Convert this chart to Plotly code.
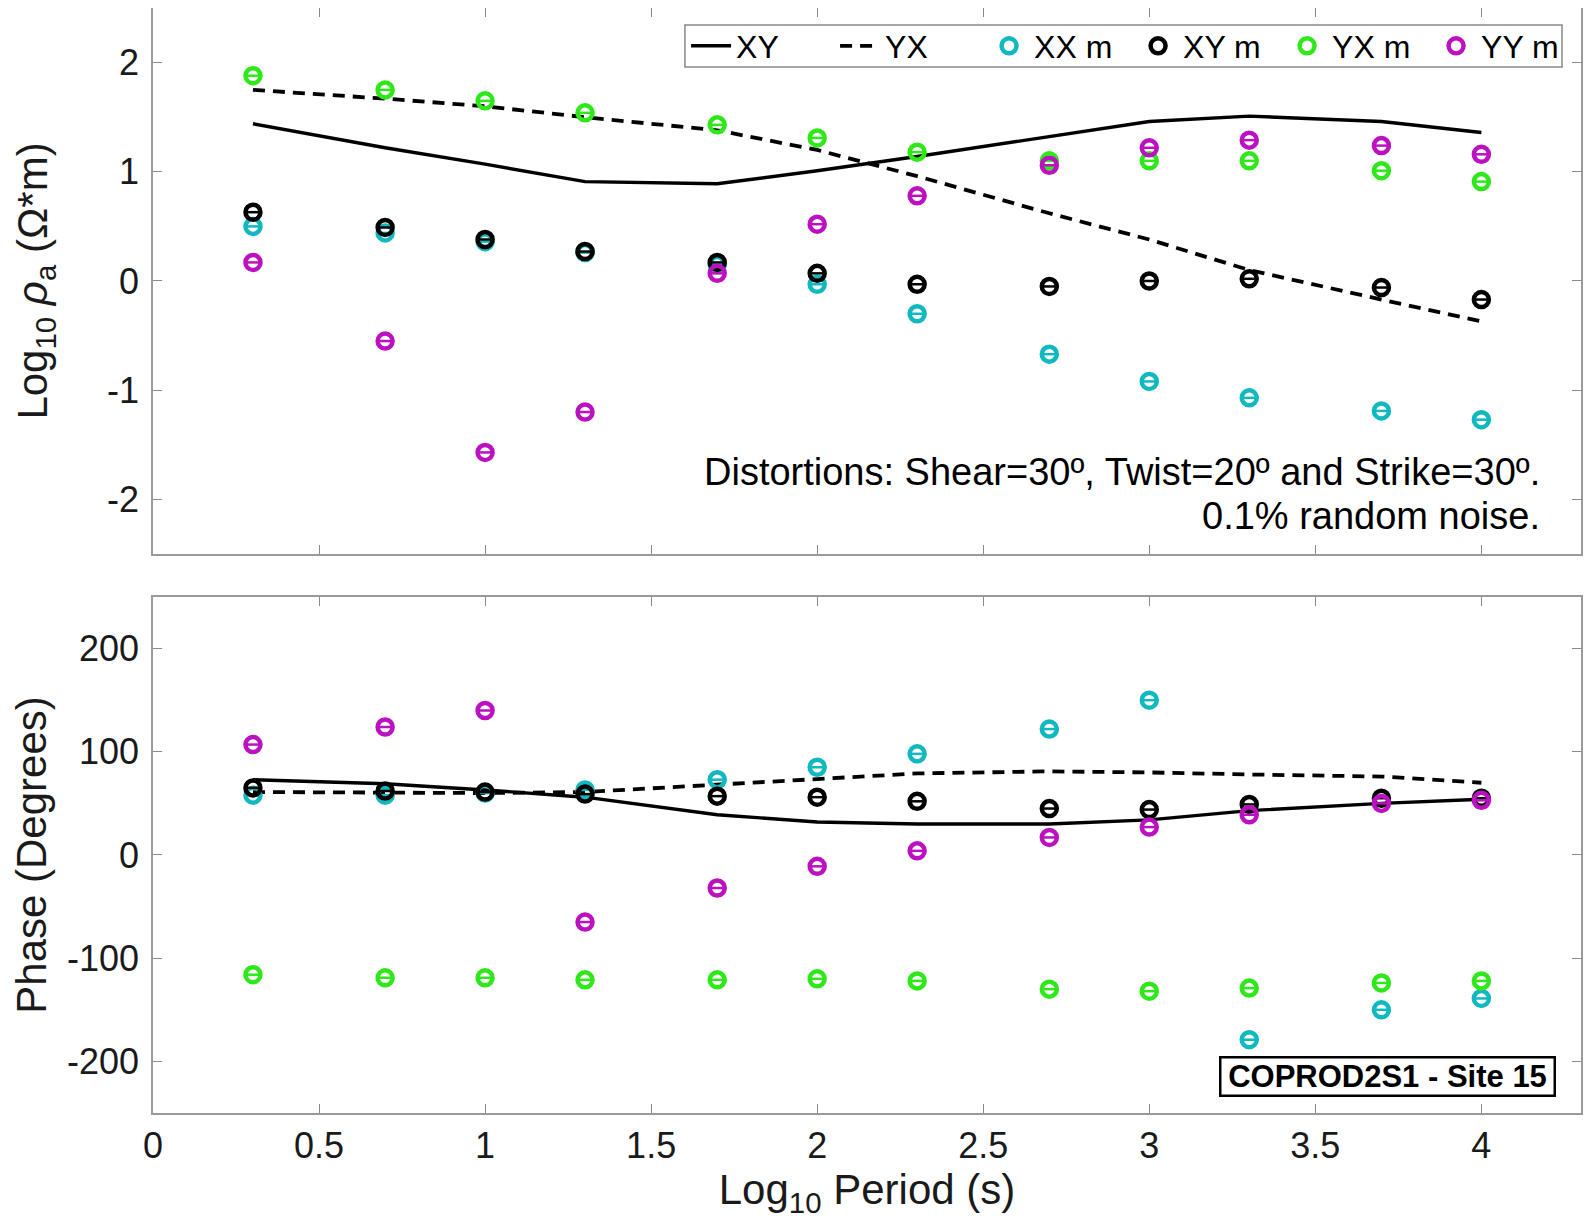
import plotly.graph_objects as go

# ---------------- data ----------------
log_period = [0.301, 0.699, 1.0, 1.301, 1.699, 2.0, 2.301, 2.699, 3.0, 3.301, 3.699, 4.0]

# apparent resistivity (log10 ohm*m)
rho_xy_model = [1.44, 1.22, 1.07, 0.91, 0.89, 1.01, 1.14, 1.32, 1.46, 1.51, 1.46, 1.36]
rho_yx_model = [1.75, 1.67, 1.60, 1.50, 1.38, 1.20, 0.96, 0.62, 0.38, 0.10, -0.17, -0.37]
rho_xx_m = [0.50, 0.44, 0.36, 0.26, 0.15, -0.03, -0.30, -0.67, -0.92, -1.07, -1.19, -1.27]
rho_xy_m = [0.63, 0.49, 0.38, 0.27, 0.17, 0.07, -0.03, -0.05, 0.00, 0.02, -0.06, -0.17]
rho_yx_m = [1.88, 1.75, 1.65, 1.54, 1.43, 1.31, 1.18, 1.10, 1.10, 1.10, 1.01, 0.91]
rho_yy_m = [0.17, -0.55, -1.57, -1.20, 0.07, 0.52, 0.78, 1.06, 1.22, 1.29, 1.24, 1.16]

# phase (degrees)
ph_xy_model = [73, 69, 63, 56, 39, 32, 30, 30, 34, 43, 50, 54]
ph_yx_model = [61, 60, 60, 61, 68, 74, 79, 81, 80, 78, 76, 70]
ph_xx_m = [58, 58, 60, 63, 73, 85, 98, 122, 150, -179, -150, -139]
ph_xy_m = [65, 62, 61, 59, 57, 56, 52, 45, 44, 49, 55, 55]
ph_yx_m = [-116, -119, -119, -121, -121, -120, -122, -130, -132, -129, -124, -122]
ph_yy_m = [107, 124, 140, -65, -32, -11, 4, 17, 27, 39, 50, 53]

x_ticks = [0, 0.5, 1, 1.5, 2, 2.5, 3, 3.5, 4]
x_tick_labels = ["0", "0.5", "1", "1.5", "2", "2.5", "3", "3.5", "4"]
rho_ticks = [-2, -1, 0, 1, 2]
rho_tick_labels = ["-2", "-1", "0", "1", "2"]
phase_ticks = [-200, -100, 0, 100, 200]
phase_tick_labels = ["-200", "-100", "0", "100", "200"]

C_XX = "#10b8bf"
C_XY = "#000000"
C_YX = "#2ee81a"
C_YY = "#bb11c0"

FONT = "Liberation Sans, Arial, Helvetica, sans-serif"
TXT = "#1a1a1a"

fig = go.Figure()

def add_lines(y_xy, y_yx, xa, ya, show):
    fig.add_trace(go.Scatter(x=log_period, y=y_xy, mode="lines", name="XY",
                             line=dict(color="black", width=3.4),
                             xaxis=xa, yaxis=ya, showlegend=show, legendgroup="XY"))
    fig.add_trace(go.Scatter(x=log_period, y=y_yx, mode="lines", name="YX",
                             line=dict(color="black", width=3.8, dash="12px,8px"),
                             xaxis=xa, yaxis=ya, showlegend=show, legendgroup="YX"))

def add_markers(y, color, name, xa, ya, show):
    fig.add_trace(go.Scatter(x=log_period, y=y, mode="markers", name=name,
                             marker=dict(symbol="circle-open", size=15, color=color,
                                         line=dict(width=4.5, color=color)),
                             xaxis=xa, yaxis=ya, showlegend=show, legendgroup=name))
    fig.add_trace(go.Scatter(x=log_period, y=y, mode="markers", name=name,
                             marker=dict(symbol="line-ew-open", size=9, color=color,
                                         line=dict(width=2.5, color=color)),
                             xaxis=xa, yaxis=ya, showlegend=False, legendgroup=name,
                             hoverinfo="skip"))

# top panel
add_lines(rho_xy_model, rho_yx_model, "x", "y", True)
add_markers(rho_xx_m, C_XX, "XX m", "x", "y", True)
add_markers(rho_xy_m, C_XY, "XY m", "x", "y", True)
add_markers(rho_yx_m, C_YX, "YX m", "x", "y", True)
add_markers(rho_yy_m, C_YY, "YY m", "x", "y", True)

# bottom panel
add_lines(ph_xy_model, ph_yx_model, "x2", "y2", False)
add_markers(ph_xx_m, C_XX, "XX m", "x2", "y2", False)
add_markers(ph_xy_m, C_XY, "XY m", "x2", "y2", False)
add_markers(ph_yx_m, C_YX, "YX m", "x2", "y2", False)
add_markers(ph_yy_m, C_YY, "YY m", "x2", "y2", False)

axis_common = dict(
    showline=True, linecolor="#9a9a9a", linewidth=1.5, mirror="ticks",
    ticks="inside", ticklen=9, tickwidth=1, tickcolor="#8a8a8a",
    showgrid=False, zeroline=False, automargin=False,
    tickfont=dict(family=FONT, size=36, color=TXT),
)
TITLE_FONT = dict(family=FONT, size=42, color=TXT)

# page body has an 8px margin: figure sized/offset to compensate
fig.update_layout(
    width=1586, height=1220,
    margin=dict(l=145, r=13, t=0, b=115, autoexpand=False),
    paper_bgcolor="white", plot_bgcolor="white",
    font=dict(family=FONT, color=TXT),
    xaxis=dict(domain=[0, 1], anchor="y", range=[0, 4.3], tickvals=x_ticks,
               ticktext=x_tick_labels, showticklabels=False, **axis_common),
    xaxis2=dict(domain=[0, 1], anchor="y2", range=[0, 4.3], tickvals=x_ticks,
                ticktext=x_tick_labels, matches="x", ticklabelstandoff=0,
                title=dict(text="Log<sub>10</sub> Period (s)", font=TITLE_FONT, standoff=2),
                **axis_common),
    yaxis=dict(domain=[0.5059, 1], anchor="x", range=[-2.5, 2.5], tickvals=rho_ticks,
               ticktext=rho_tick_labels, ticklabelstandoff=5,
               title=dict(text="Log<sub>10</sub> <i>ρ</i><sub>a</sub> (Ω*m)",
                          font=TITLE_FONT, standoff=46),
               **axis_common),
    yaxis2=dict(domain=[0, 0.467], anchor="x2", range=[-250, 250], tickvals=phase_ticks,
                ticktext=phase_tick_labels, ticklabelstandoff=5,
                title=dict(text="Phase (Degrees)", font=TITLE_FONT, standoff=8),
                **axis_common),
    legend=dict(orientation="h", x=0.3733, xanchor="left", y=0.9656, yanchor="middle",
                bgcolor="rgba(0,0,0,0)", borderwidth=0,
                font=dict(family=FONT, size=32, color="black"),
                itemwidth=40, tracegroupgap=0, entrywidth=94, entrywidthmode="pixels"),
    showlegend=True,
    shapes=[dict(type="rect", xref="paper", yref="paper",
                 x0=0.3725, x1=0.9867, y0=0.9466, y1=0.9846,
                 line=dict(color="#8a8a8a", width=1.5), fillcolor="white", layer="above")],
)

fig.add_annotation(
    x=4.183, y=-1.75, xref="x", yref="y", xanchor="right", yanchor="middle",
    align="right", showarrow=False,
    text="Distortions: Shear=30º, Twist=20º and Strike=30º.",
    font=dict(family=FONT, size=38, color="black"),
)
fig.add_annotation(
    x=4.183, y=-2.15, xref="x", yref="y", xanchor="right", yanchor="middle",
    align="right", showarrow=False,
    text="0.1% random noise.",
    font=dict(family=FONT, size=38, color="black"),
)

fig.add_annotation(
    x=3.717, y=-215, xref="x2", yref="y2", xanchor="center", yanchor="middle",
    showarrow=False, text="<b>COPROD2S1 - Site 15</b>",
    font=dict(family=FONT, size=31, color="black"),
    width=330, height=34,
    bordercolor="black", borderwidth=2.5, borderpad=1, bgcolor="white",
)

fig.write_html("out.html")
